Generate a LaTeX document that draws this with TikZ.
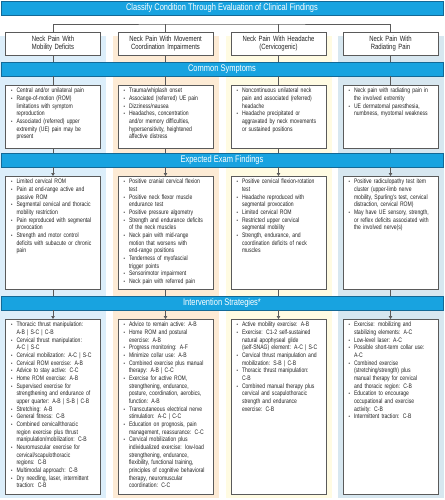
\documentclass[tikz,border=0pt]{standalone}
\usepackage{fontspec}
\setmainfont{Liberation Sans}[FakeStretch=0.78]
\usepackage{graphicx}
\usepackage{enumitem}
\usetikzlibrary{arrows.meta,positioning}
\definecolor{banner}{RGB}{24,163,224}
\definecolor{bannerline}{RGB}{20,105,150}
\definecolor{colA}{RGB}{220,238,250}
\definecolor{colB}{RGB}{253,235,213}
\definecolor{colC}{RGB}{255,251,226}
\definecolor{colD}{RGB}{215,231,240}
\definecolor{frame}{RGB}{90,90,90}
\definecolor{txt}{RGB}{35,35,35}
\newlist{pts}{itemize}{1}
\setlist[pts]{label={\scalebox{0.8}{\textbullet}},leftmargin=7pt,labelsep=4pt,
	itemsep=0pt,topsep=0pt,parsep=0pt,partopsep=0pt}
\newcommand{\pad}[2]{\begin{minipage}[t][#1][t]{\linewidth}\raggedright
	\begin{pts}#2\end{pts}\end{minipage}}
\tikzset{
	band/.style={draw=bannerline,fill=banner,text=white,minimum width=442pt,
		minimum height=14pt,inner sep=0pt,font=\fontsize{9.6}{10}\selectfont},
	head/.style={draw=frame,fill=white,text=txt,text width=87pt,minimum height=23pt,
		align=center,inner xsep=4pt,inner ysep=2pt,font=\fontsize{7.6}{8.5}\selectfont},
	card/.style={draw=frame,fill=white,text=txt,text width=87pt,anchor=north,
		inner xsep=4pt,inner ysep=3pt,align=left,font=\fontsize{6.5}{7.67}\selectfont},
}
\begin{document}
\begin{tikzpicture}[x=1pt,y=-1pt,
		link/.style={draw=frame,line width=0.7pt},
		drop/.style={link,-{Triangle[length=3pt,width=3.5pt]}}]
	\useasboundingbox (0,0) rectangle (444,500);
	% column backgrounds
	\fill[colA] (0,36) rectangle (106,498);
	\fill[colB] (112.5,36) rectangle (218.5,498);
	\fill[colC] (225.5,36) rectangle (331.5,498);
	\fill[colD] (337.5,36) rectangle (444,498);

	\node[band] (title) at (222,8) {Classify Condition Through Evaluation of Clinical Findings};
	\node[head] (c1) at (53,43.5) {Neck Pain With\\Mobility Deficits};
	\node[head] (c2) at (165.5,43.5) {Neck Pain With Movement\\Coordination Impairments};
	\node[head] (c3) at (278.5,43.5) {Neck Pain With Headache\\(Cervicogenic)};
	\node[head] (c4) at (390.5,43.5) {Neck Pain With\\Radiating Pain};

	\node[band] (symp) at (222,69) {Common Symptoms};
	\node[card] (s1) at (53,85) {\pad{57pt}{
		\item Central and/or unilateral pain
		\item Range-of-motion (ROM)\\ limitations with symptom\\ reproduction
		\item Associated (referred) upper\\ extremity (UE) pain may be\\ present}};
	\node[card] (s2) at (165.5,85) {\pad{57pt}{
		\item Trauma/whiplash onset
		\item Associated (referred) UE pain
		\item Dizziness/nausea
		\item Headaches, concentration\\ and/or memory difficulties,\\ hypersensitivity, heightened\\ affective distress}};
	\node[card] (s3) at (278.5,85) {\pad{57pt}{
		\item Noncontinuous unilateral neck\\ pain and associated (referred)\\ headache
		\item Headache precipitated or\\ aggravated by neck movements\\ or sustained positions}};
	\node[card] (s4) at (390.5,85) {\pad{57pt}{
		\item Neck pain with radiating pain in\\ the involved extremity
		\item UE dermatomal paresthesia,\\ numbness, myotomal weakness}};

	\node[band] (exam) at (222,160) {Expected Exam Findings};
	\node[card] (e1) at (53,176) {\pad{107pt}{
		\item Limited cervical ROM
		\item Pain at end-range active and\\ passive ROM
		\item Segmental cervical and thoracic\\ mobility restriction
		\item Pain reproduced with segmental\\ provocation
		\item Strength and motor control\\ deficits with subacute or chronic\\ pain}};
	\node[card] (e2) at (165.5,176) {\pad{107pt}{
		\item Positive cranial cervical flexion\\ test
		\item Positive neck flexor muscle\\ endurance test
		\item Positive pressure algometry
		\item Strength and endurance deficits\\ of the neck muscles
		\item Neck pain with mid-range\\ motion that worsens with\\ end-range positions
		\item Tenderness of myofascial\\ trigger points
		\item Sensorimotor impairment
		\item Neck pain with referred pain}};
	\node[card] (e3) at (278.5,176) {\pad{107pt}{
		\item Positive cervical flexion-rotation\\ test
		\item Headache reproduced with\\ segmental provocation
		\item Limited cervical ROM
		\item Restricted upper cervical\\ segmental mobility
		\item Strength, endurance, and\\ coordination deficits of neck\\ muscles}};
	\node[card] (e4) at (390.5,176) {\pad{107pt}{
		\item Positive radiculopathy test item\\ cluster (upper-limb nerve\\ mobility, Spurling's test, cervical\\ distraction, cervical ROM)
		\item May have UE sensory, strength,\\ or reflex deficits associated with\\ the involved nerve(s)}};

	\node[band] (plan) at (222,303) {Intervention Strategies*};
	\node[card] (p1) at (53,319) {\pad{169pt}{
		\item Thoracic thrust manipulation:\\ A-B | S-C | C-B
		\item Cervical thrust manipulation:\\ A-C | S-C
		\item Cervical mobilization: A-C | S-C
		\item Cervical ROM exercise: A-B
		\item Advice to stay active: C-C
		\item Home ROM exercise: A-B
		\item Supervised exercise for\\ strengthening and endurance of\\ upper quarter: A-B | S-B | C-B
		\item Stretching: A-B
		\item General fitness: C-B
		\item Combined cervical/thoracic\\ region exercise plus thrust\\ manipulation/mobilization: C-B
		\item Neuromuscular exercise for\\ cervical/scapulothoracic\\ regions: C-B
		\item Multimodal approach: C-B
		\item Dry needling, laser, intermittent\\ traction: C-B}};
	\node[card] (p2) at (165.5,319) {\pad{169pt}{
		\item Advice to remain active: A-B
		\item Home ROM and postural\\ exercise: A-B
		\item Progress monitoring: A-F
		\item Minimize collar use: A-B
		\item Combined exercise plus manual\\ therapy: A-B | C-C
		\item Exercise for active ROM,\\ strengthening, endurance,\\ posture, coordination, aerobics,\\ function: A-B
		\item Transcutaneous electrical nerve\\ stimulation: A-C | C-C
		\item Education on prognosis, pain\\ management, reassurance: C-C
		\item Cervical mobilization plus\\ individualized exercise: low-load\\ strengthening, endurance,\\ flexibility, functional training,\\ principles of cognitive behavioral\\ therapy, neuromuscular\\ coordination: C-C}};
	\node[card] (p3) at (278.5,319) {\pad{169pt}{
		\item Active mobility exercise: A-B
		\item Exercise: C1-2 self-sustained\\ natural apophyseal glide\\ (self-SNAG) element: A-C | S-C
		\item Cervical thrust manipulation and\\ mobilization: S-B | C-B
		\item Thoracic thrust manipulation:\\ C-B
		\item Combined manual therapy plus\\ cervical and scapulothoracic\\ strength and endurance\\ exercise: C-B}};
	\node[card] (p4) at (390.5,319) {\pad{169pt}{
		\item Exercise: mobilizing and\\ stabilizing elements: A-C
		\item Low-level laser: A-C
		\item Possible short-term collar use:\\ A-C
		\item Combined exercise\\ (stretching/strength) plus\\ manual therapy for cervical\\ and thoracic region: C-B
		\item Education to encourage\\ occupational and exercise\\ activity: C-B
		\item Intermittent traction: C-B}};

	% connectors
	\coordinate (fork) at (222,24);
	\draw[link] (c1.north) |- (fork) -| (c4.north);
	\draw[link] (c2.north) -- (c2.north |- fork);
	\draw[link] (c3.north) -- (c3.north |- fork);
	\draw[link] (c1) -- (c1 |- symp.north);
	\draw[link] (c2) -- (c2 |- symp.north);
	\draw[link] (c3) -- (c3 |- symp.north);
	\draw[link] (c4) -- (c4 |- symp.north);
	\draw[link] (symp.south -| s1) -- (s1);
	\draw[link] (symp.south -| s2) -- (s2);
	\draw[link] (symp.south -| s3) -- (s3);
	\draw[link] (symp.south -| s4) -- (s4);
	\draw[link] (s1) -- (s1 |- exam.north);
	\draw[link] (s2) -- (s2 |- exam.north);
	\draw[link] (s3) -- (s3 |- exam.north);
	\draw[link] (s4) -- (s4 |- exam.north);
	\draw[drop] (exam.south -| e1) -- (e1);
	\draw[drop] (exam.south -| e2) -- (e2);
	\draw[drop] (exam.south -| e3) -- (e3);
	\draw[drop] (exam.south -| e4) -- (e4);
	\draw[link] (e1) -- (e1 |- plan.north);
	\draw[link] (e2) -- (e2 |- plan.north);
	\draw[link] (e3) -- (e3 |- plan.north);
	\draw[link] (e4) -- (e4 |- plan.north);
	\draw[drop] (plan.south -| p1) -- (p1);
	\draw[drop] (plan.south -| p2) -- (p2);
	\draw[drop] (plan.south -| p3) -- (p3);
	\draw[drop] (plan.south -| p4) -- (p4);
\end{tikzpicture}
\end{document}
